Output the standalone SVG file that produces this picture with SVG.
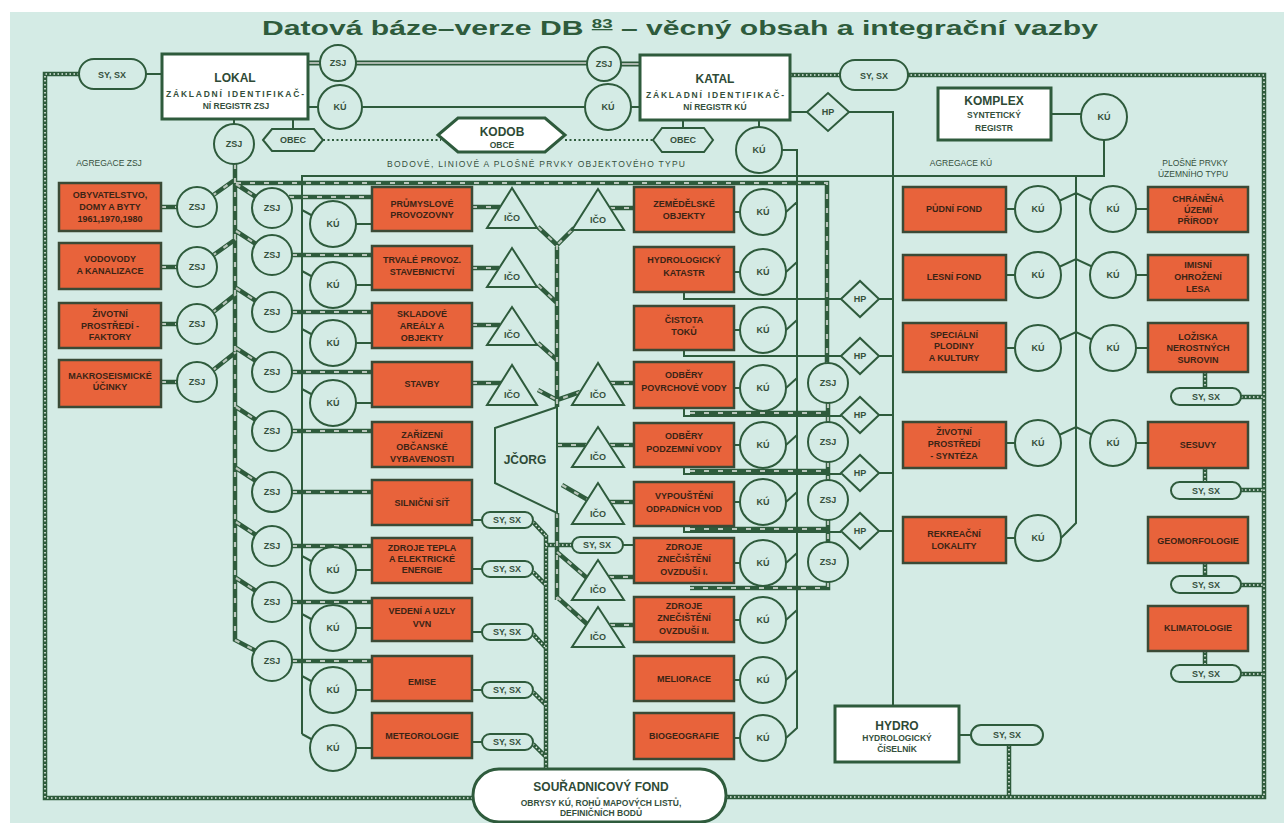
<svg xmlns="http://www.w3.org/2000/svg" width="1284" height="823" viewBox="0 0 1284 823">
<defs>
<style>
.bg{fill:#d4ebe5}
.ln{fill:none;stroke:#2e5b3c;stroke-width:2}
.zb{fill:none;stroke:#2e5b3c;stroke-width:4.5}
.zt{fill:none;stroke:#b9c6bc;stroke-width:2.2;stroke-dasharray:5 9}
.fb{fill:none;stroke:#2e5b3c;stroke-width:4.5}
.ft{fill:none;stroke:#e0ebe3;stroke-width:1.6;stroke-dasharray:1.5 2.5}
.db{fill:none;stroke:#2e5b3c;stroke-width:5}
.dt{fill:none;stroke:#aab6ad;stroke-width:1.8}
.dot{fill:none;stroke:#2e5b3c;stroke-width:2;stroke-dasharray:2 2.5}
.ob{fill:#e8633b;stroke:#3a4a36;stroke-width:2.5}
.wb{fill:#fff;stroke:#2e5b3c;stroke-width:3}
.nd{fill:#d4ebe5;stroke:#2e5b3c;stroke-width:2}
text{font-family:"Liberation Sans",Arial,sans-serif;text-anchor:middle}
.t{font-size:9px;font-weight:bold;fill:#3b2415}
.c{font-size:9px;font-weight:bold;fill:#34503c}
.h{font-size:12px;font-weight:bold;fill:#2e4a36}
.s{font-size:8.5px;font-weight:bold;fill:#34503c}
.lb{font-size:8.5px;fill:#34503c}
.title{font-size:21px;font-weight:bold;fill:#2e5b3c;text-anchor:start}
</style>
<path id="frame" d="M79 74H45V798H473M726 797H1264V75H908M790 75H840M1241 397H1264M1241 490H1264M1241 585H1264M1241 674H1264M1205 372V388M1205 468V482M1205 563V576M1205 651V665M1009 745V797M546 535V769M533 522L546 536M533 572L546 585M533 634L546 648M533 692L546 705M533 744L546 757M546 545H572"/>
<path id="zsj" d="M235 164V640L256 651M212 196L236 179M212 256L236 239M212 313L236 294M212 371L236 352M161 207H177M161 267H177M161 324H177M161 382H177M236 184L256 197M236 231L256 244M236 288L256 301M236 348L256 361M236 407L256 420M236 468L256 481M236 522L256 535M236 578L256 591M289 197H372M292 255H372M292 312H372M292 372H372M292 431H372M292 492H372M292 546H372M292 602H372M292 661H372M236 183H827V363M828 403V422M828 462V480M828 520V542M828 582V588H690M690 413H828M690 471H828M690 529H828M472 207H500M472 268H499M472 325H500M472 383H501M610 208H634M610 383H634M610 445H634M610 502H634M609 577H634M610 625H634M538 227L557 245L574 228M557 245V407M538 285L557 303M538 343L557 360M538 390L557 400L580 392M557 513V600M557 445H586M562 485L588 500M557 552L587 578M557 597L587 624"/>
</defs>
<rect width="1284" height="823" fill="#fff"/>
<rect x="10" y="12" width="1274" height="811" class="bg"/>
<text class="title" x="262" y="35" textLength="836" lengthAdjust="spacingAndGlyphs">Datová báze–verze DB <tspan font-size="13" dy="-7" text-decoration="underline">83</tspan><tspan dy="7"> – věcný obsah a integrační vazby</tspan></text>

<g id="connectors">
<use href="#frame" class="fb"/><use href="#frame" class="ft"/>
<use href="#zsj" class="zb"/><use href="#zsj" class="zt"/>
<path class="db" d="M308 63H321M356 63H587M621 64H640"/>
<path class="dt" d="M308 63H321M356 63H587M621 64H640"/>
<path class="dot" d="M323 140H441M565 140H653"/>
<path class="ln" d="M146 74H162M308 107H318M362 107H585M631 107H640M293 119V129M234 119V124M683 120V128M759 120V127M790 112H807M849 112H893V706M782 150H797V728L786 738M786 212L797 202M786 272L797 262M786 330L797 320M786 388L797 378M786 445L797 435M786 502L797 492M786 563L797 553M786 620L797 610M786 680L797 670M734 212H740M734 272H740M734 330H740M734 388H740M734 445H740M734 502H740M734 563H740M734 620H740M734 680H740M734 738H740M684 292V299H841M684 350V356H841M684 408V416H841M684 467V474H841M684 526V532H841M879 299H893M879 356H893M879 415H893M879 473H893M879 531H893M302 734V176H1104V140M302 210L313 216M302 271L313 277M302 329L313 335M302 389L313 395M302 556L313 562M302 614L313 620M302 676L313 682M302 734L313 740M356 224H372M356 285H372M356 343H372M356 403H372M356 570H372M356 628H372M356 690H372M356 748H372M1076 176V523L1061 538M1059 201L1076 193L1093 201M1059 267L1076 259L1093 267M1059 340L1076 332L1093 340M1059 435L1076 427L1093 435M1006 209H1015M1006 275H1015M1006 348H1015M1006 443H1015M1006 538H1015M1136 209H1148M1136 275H1148M1136 348H1148M1136 443H1148M1051 114H1081M959 735H971M472 520H482M472 569H482M472 632H482M472 690H482M472 742H482M623 545H634"/>
</g>

<g id="labels">
<text class="lb" x="109" y="166">AGREGACE ZSJ</text>
<text class="lb" x="536" y="167" textLength="298">BODOVÉ, LINIOVÉ A PLOŠNÉ PRVKY OBJEKTOVÉHO TYPU</text>
<text class="lb" x="961" y="166">AGREGACE KÚ</text>
<text class="lb" x="1195" y="166">PLOŠNÉ PRVKY</text>
<text class="lb" x="1193" y="177">ÚZEMNÍHO TYPU</text>
</g>

<g id="lokal"><rect class="wb" x="162" y="54" width="146" height="65"/><text class="h" x="235" y="82">LOKAL</text><text class="s" x="235" y="97" textLength="138">ZÁKLADNÍ IDENTIFIKAČ-</text><text class="s" x="236" y="109">NÍ REGISTR ZSJ</text></g>
<g id="katal"><rect class="wb" x="640" y="55" width="150" height="65"/><text class="h" x="715" y="83">KATAL</text><text class="s" x="715" y="98" textLength="138">ZÁKLADNÍ IDENTIFIKAČ-</text><text class="s" x="715" y="110">NÍ REGISTR KÚ</text></g>
<g id="komplex"><rect class="wb" x="938" y="88" width="113" height="52"/><text class="h" x="994" y="105">KOMPLEX</text><text class="s" x="994" y="118">SYNTETICKÝ</text><text class="s" x="994" y="131">REGISTR</text></g>
<g id="hydro"><rect class="wb" x="835" y="706" width="124" height="56"/><text class="h" x="897" y="730">HYDRO</text><text class="s" x="897" y="741">HYDROLOGICKÝ</text><text class="s" x="897" y="752">ČÍSELNÍK</text></g>
<g id="souradnice"><rect class="wb" x="473" y="769" width="253" height="53" rx="26"/><text class="h" x="601" y="791">SOUŘADNICOVÝ FOND</text><text class="s" x="601" y="806">OBRYSY KÚ, ROHŮ MAPOVÝCH LISTŮ,</text><text class="s" x="601" y="816">DEFINIČNÍCH BODŮ</text></g>
<g id="kodob"><polygon class="wb" points="438,135 458,118 545,118 565,135 545,152 458,152"/><text class="h" x="502" y="136">KODOB</text><text class="s" x="502" y="148">OBCE</text></g>
<g id="obec1"><polygon class="nd" points="263,140 272,129 314,129 323,140 314,151 272,151"/><text class="c" x="293" y="143">OBEC</text></g>
<g id="obec2"><polygon class="nd" points="653,140 662,128 704,128 713,140 704,152 662,152"/><text class="c" x="683" y="143">OBEC</text></g>

<g id="pills">
<g id="p-lokal"><rect class="nd" x="79" y="59" width="67" height="30" rx="15"/><text class="c" x="112" y="78">SY, SX</text></g>
<g id="p-katal"><rect class="nd" x="840" y="60" width="68" height="30" rx="15"/><text class="c" x="874" y="79">SY, SX</text></g>
<g id="p-hydro"><rect class="nd" x="971" y="725" width="72" height="20" rx="10"/><text class="c" x="1007" y="738">SY, SX</text></g>
<g id="p-q3"><rect class="nd" x="1171" y="388" width="70" height="17" rx="8.5"/><text class="c" x="1206" y="400">SY, SX</text></g>
<g id="p-q4"><rect class="nd" x="1171" y="482" width="70" height="17" rx="8.5"/><text class="c" x="1206" y="494">SY, SX</text></g>
<g id="p-q5"><rect class="nd" x="1171" y="576" width="70" height="17" rx="8.5"/><text class="c" x="1206" y="588">SY, SX</text></g>
<g id="p-q6"><rect class="nd" x="1171" y="665" width="70" height="17" rx="8.5"/><text class="c" x="1206" y="677">SY, SX</text></g>
<g id="p-m6"><rect class="nd" x="482" y="512" width="51" height="16" rx="8"/><text class="c" x="507" y="523">SY, SX</text></g>
<g id="p-m7"><rect class="nd" x="482" y="561" width="51" height="16" rx="8"/><text class="c" x="507" y="572">SY, SX</text></g>
<g id="p-m8"><rect class="nd" x="482" y="624" width="51" height="16" rx="8"/><text class="c" x="507" y="635">SY, SX</text></g>
<g id="p-m9"><rect class="nd" x="482" y="682" width="51" height="16" rx="8"/><text class="c" x="507" y="693">SY, SX</text></g>
<g id="p-m10"><rect class="nd" x="482" y="734" width="51" height="16" rx="8"/><text class="c" x="507" y="745">SY, SX</text></g>
<g id="p-r7"><rect class="nd" x="572" y="537" width="51" height="16" rx="8"/><text class="c" x="597" y="548">SY, SX</text></g>
</g>

<g id="hp">
<g id="hp0"><polygon class="nd" points="807,112 828,93 849,112 828,131"/><text class="c" x="828" y="115">HP</text></g>
<g id="hp1"><polygon class="nd" points="841,299 860,281 879,299 860,317"/><text class="c" x="860" y="302">HP</text></g>
<g id="hp2"><polygon class="nd" points="841,356 860,338 879,356 860,374"/><text class="c" x="860" y="359">HP</text></g>
<g id="hp3"><polygon class="nd" points="841,415 860,397 879,415 860,433"/><text class="c" x="860" y="418">HP</text></g>
<g id="hp4"><polygon class="nd" points="841,473 860,455 879,473 860,491"/><text class="c" x="860" y="476">HP</text></g>
<g id="hp5"><polygon class="nd" points="841,531 860,513 879,531 860,549"/><text class="c" x="860" y="534">HP</text></g>
</g>

<g id="ico">
<g id="ico-a1"><polygon class="nd" points="512,188 487,228 537,228"/><text class="c" x="512" y="221">IČO</text></g>
<g id="ico-a2"><polygon class="nd" points="512,248 487,287 537,287"/><text class="c" x="512" y="280">IČO</text></g>
<g id="ico-a3"><polygon class="nd" points="512,307 487,345 537,345"/><text class="c" x="512" y="338">IČO</text></g>
<g id="ico-a4"><polygon class="nd" points="512,365 487,405 537,405"/><text class="c" x="512" y="398">IČO</text></g>
<g id="ico-b1"><polygon class="nd" points="598,189 572,230 624,230"/><text class="c" x="598" y="223">IČO</text></g>
<g id="ico-b2"><polygon class="nd" points="598,363 572,405 624,405"/><text class="c" x="598" y="398">IČO</text></g>
<g id="ico-b3"><polygon class="nd" points="598,427 572,467 624,467"/><text class="c" x="598" y="460">IČO</text></g>
<g id="ico-b4"><polygon class="nd" points="598,483 572,524 624,524"/><text class="c" x="598" y="517">IČO</text></g>
<g id="ico-b5"><polygon class="nd" points="598,560 572,600 624,600"/><text class="c" x="598" y="593">IČO</text></g>
<g id="ico-b6"><polygon class="nd" points="598,607 572,647 624,647"/><text class="c" x="598" y="640">IČO</text></g>
</g>
<g id="jcorg"><polygon class="nd" points="557,407 495,428 495,483 557,513"/><text class="h" x="525" y="464">JČORG</text></g>

<g id="circles">
<g id="c-lokal-zsj"><circle class="nd" cx="338" cy="63" r="18"/><text class="c" x="338" y="66">ZSJ</text></g>
<g id="c-lokal-ku"><circle class="nd" cx="340" cy="107" r="22"/><text class="c" x="340" y="110">KÚ</text></g>
<g id="c-katal-zsj"><circle class="nd" cx="604" cy="64" r="17"/><text class="c" x="604" y="67">ZSJ</text></g>
<g id="c-katal-ku"><circle class="nd" cx="608" cy="107" r="23"/><text class="c" x="608" y="110">KÚ</text></g>
<g id="c-katal-ku2"><circle class="nd" cx="759" cy="150" r="23"/><text class="c" x="759" y="153">KÚ</text></g>
<g id="c-lokal-zsj2"><circle class="nd" cx="234" cy="144" r="20"/><text class="c" x="234" y="147">ZSJ</text></g>
<g id="c-komplex-ku"><circle class="nd" cx="1104" cy="117" r="23"/><text class="c" x="1104" y="120">KÚ</text></g>
<g id="c-l1"><circle class="nd" cx="197" cy="207" r="20"/><text class="c" x="197" y="210">ZSJ</text></g>
<g id="c-l2"><circle class="nd" cx="197" cy="267" r="20"/><text class="c" x="197" y="270">ZSJ</text></g>
<g id="c-l3"><circle class="nd" cx="197" cy="324" r="20"/><text class="c" x="197" y="327">ZSJ</text></g>
<g id="c-l4"><circle class="nd" cx="197" cy="382" r="20"/><text class="c" x="197" y="385">ZSJ</text></g>
<g id="c-z1"><circle class="nd" cx="272" cy="208" r="20"/><text class="c" x="272" y="211">ZSJ</text></g>
<g id="c-z2"><circle class="nd" cx="272" cy="255" r="20"/><text class="c" x="272" y="258">ZSJ</text></g>
<g id="c-z3"><circle class="nd" cx="272" cy="312" r="20"/><text class="c" x="272" y="315">ZSJ</text></g>
<g id="c-z4"><circle class="nd" cx="272" cy="372" r="20"/><text class="c" x="272" y="375">ZSJ</text></g>
<g id="c-z5"><circle class="nd" cx="272" cy="431" r="20"/><text class="c" x="272" y="434">ZSJ</text></g>
<g id="c-z6"><circle class="nd" cx="272" cy="492" r="20"/><text class="c" x="272" y="495">ZSJ</text></g>
<g id="c-z7"><circle class="nd" cx="272" cy="546" r="20"/><text class="c" x="272" y="549">ZSJ</text></g>
<g id="c-z8"><circle class="nd" cx="272" cy="602" r="20"/><text class="c" x="272" y="605">ZSJ</text></g>
<g id="c-z9"><circle class="nd" cx="272" cy="661" r="20"/><text class="c" x="272" y="664">ZSJ</text></g>
<g id="c-k1"><circle class="nd" cx="333" cy="224" r="23"/><text class="c" x="333" y="227">KÚ</text></g>
<g id="c-k2"><circle class="nd" cx="333" cy="285" r="23"/><text class="c" x="333" y="288">KÚ</text></g>
<g id="c-k3"><circle class="nd" cx="333" cy="343" r="23"/><text class="c" x="333" y="346">KÚ</text></g>
<g id="c-k4"><circle class="nd" cx="333" cy="403" r="23"/><text class="c" x="333" y="406">KÚ</text></g>
<g id="c-k7"><circle class="nd" cx="333" cy="570" r="23"/><text class="c" x="333" y="573">KÚ</text></g>
<g id="c-k8"><circle class="nd" cx="333" cy="628" r="23"/><text class="c" x="333" y="631">KÚ</text></g>
<g id="c-k9"><circle class="nd" cx="333" cy="690" r="23"/><text class="c" x="333" y="693">KÚ</text></g>
<g id="c-k10"><circle class="nd" cx="333" cy="748" r="23"/><text class="c" x="333" y="751">KÚ</text></g>
<g id="c-rk1"><circle class="nd" cx="763" cy="212" r="23"/><text class="c" x="763" y="215">KÚ</text></g>
<g id="c-rk2"><circle class="nd" cx="763" cy="272" r="23"/><text class="c" x="763" y="275">KÚ</text></g>
<g id="c-rk3"><circle class="nd" cx="763" cy="330" r="23"/><text class="c" x="763" y="333">KÚ</text></g>
<g id="c-rk4"><circle class="nd" cx="763" cy="388" r="23"/><text class="c" x="763" y="391">KÚ</text></g>
<g id="c-rk5"><circle class="nd" cx="763" cy="445" r="23"/><text class="c" x="763" y="448">KÚ</text></g>
<g id="c-rk6"><circle class="nd" cx="763" cy="502" r="23"/><text class="c" x="763" y="505">KÚ</text></g>
<g id="c-rk7"><circle class="nd" cx="763" cy="563" r="23"/><text class="c" x="763" y="566">KÚ</text></g>
<g id="c-rk8"><circle class="nd" cx="763" cy="620" r="23"/><text class="c" x="763" y="623">KÚ</text></g>
<g id="c-rk9"><circle class="nd" cx="763" cy="680" r="23"/><text class="c" x="763" y="683">KÚ</text></g>
<g id="c-rk10"><circle class="nd" cx="763" cy="738" r="23"/><text class="c" x="763" y="741">KÚ</text></g>
<g id="c-rz1"><circle class="nd" cx="828" cy="383" r="20"/><text class="c" x="828" y="386">ZSJ</text></g>
<g id="c-rz2"><circle class="nd" cx="828" cy="442" r="20"/><text class="c" x="828" y="445">ZSJ</text></g>
<g id="c-rz3"><circle class="nd" cx="828" cy="500" r="20"/><text class="c" x="828" y="503">ZSJ</text></g>
<g id="c-rz4"><circle class="nd" cx="828" cy="562" r="20"/><text class="c" x="828" y="565">ZSJ</text></g>
<g id="c-pk1"><circle class="nd" cx="1038" cy="209" r="23"/><text class="c" x="1038" y="212">KÚ</text></g>
<g id="c-pk2"><circle class="nd" cx="1038" cy="275" r="23"/><text class="c" x="1038" y="278">KÚ</text></g>
<g id="c-pk3"><circle class="nd" cx="1038" cy="348" r="23"/><text class="c" x="1038" y="351">KÚ</text></g>
<g id="c-pk4"><circle class="nd" cx="1038" cy="443" r="23"/><text class="c" x="1038" y="446">KÚ</text></g>
<g id="c-pk5"><circle class="nd" cx="1038" cy="538" r="23"/><text class="c" x="1038" y="541">KÚ</text></g>
<g id="c-qk1"><circle class="nd" cx="1113" cy="209" r="23"/><text class="c" x="1113" y="212">KÚ</text></g>
<g id="c-qk2"><circle class="nd" cx="1113" cy="275" r="23"/><text class="c" x="1113" y="278">KÚ</text></g>
<g id="c-qk3"><circle class="nd" cx="1113" cy="348" r="23"/><text class="c" x="1113" y="351">KÚ</text></g>
<g id="c-qk4"><circle class="nd" cx="1113" cy="443" r="23"/><text class="c" x="1113" y="446">KÚ</text></g>
</g>

<g id="boxes">
<g id="b-l1"><rect class="ob" x="59" y="183" width="102" height="48"/><text class="t" x="110" y="198">OBYVATELSTVO,</text><text class="t" x="110" y="210">DOMY A BYTY</text><text class="t" x="110" y="222">1961,1970,1980</text></g>
<g id="b-l2"><rect class="ob" x="59" y="243" width="102" height="46"/><text class="t" x="110" y="262">VODOVODY</text><text class="t" x="110" y="274">A KANALIZACE</text></g>
<g id="b-l3"><rect class="ob" x="59" y="303" width="102" height="45"/><text class="t" x="110" y="317">ŽIVOTNÍ</text><text class="t" x="110" y="329">PROSTŘEDÍ -</text><text class="t" x="110" y="340">FAKTORY</text></g>
<g id="b-l4"><rect class="ob" x="59" y="360" width="102" height="47"/><text class="t" x="110" y="379">MAKROSEISMICKÉ</text><text class="t" x="110" y="390">ÚČINKY</text></g>

<g id="b-m1"><rect class="ob" x="372" y="187" width="100" height="44"/><text class="t" x="422" y="207">PRŮMYSLOVÉ</text><text class="t" x="422" y="218">PROVOZOVNY</text></g>
<g id="b-m2"><rect class="ob" x="372" y="246" width="100" height="44"/><text class="t" x="422" y="263">TRVALÉ PROVOZ.</text><text class="t" x="422" y="275">STAVEBNICTVÍ</text></g>
<g id="b-m3"><rect class="ob" x="372" y="303" width="100" height="45"/><text class="t" x="422" y="317">SKLADOVÉ</text><text class="t" x="422" y="329">AREÁLY A</text><text class="t" x="422" y="341">OBJEKTY</text></g>
<g id="b-m4"><rect class="ob" x="372" y="362" width="100" height="45"/><text class="t" x="422" y="387">STAVBY</text></g>
<g id="b-m5"><rect class="ob" x="372" y="422" width="100" height="45"/><text class="t" x="422" y="438">ZAŘÍZENÍ</text><text class="t" x="422" y="450">OBČANSKÉ</text><text class="t" x="422" y="462">VYBAVENOSTI</text></g>
<g id="b-m6"><rect class="ob" x="372" y="480" width="100" height="45"/><text class="t" x="422" y="506">SILNIČNÍ SÍŤ</text></g>
<g id="b-m7"><rect class="ob" x="372" y="538" width="100" height="45"/><text class="t" x="422" y="551">ZDROJE TEPLA</text><text class="t" x="422" y="562">A ELEKTRICKÉ</text><text class="t" x="422" y="573">ENERGIE</text></g>
<g id="b-m8"><rect class="ob" x="372" y="598" width="100" height="43"/><text class="t" x="422" y="614">VEDENÍ A UZLY</text><text class="t" x="422" y="627">VVN</text></g>
<g id="b-m9"><rect class="ob" x="372" y="656" width="100" height="45"/><text class="t" x="422" y="685">EMISE</text></g>
<g id="b-m10"><rect class="ob" x="372" y="713" width="100" height="45"/><text class="t" x="422" y="739">METEOROLOGIE</text></g>

<g id="b-r1"><rect class="ob" x="634" y="187" width="100" height="45"/><text class="t" x="684" y="207">ZEMĚDĚLSKÉ</text><text class="t" x="684" y="219">OBJEKTY</text></g>
<g id="b-r2"><rect class="ob" x="634" y="247" width="100" height="45"/><text class="t" x="684" y="263">HYDROLOGICKÝ</text><text class="t" x="684" y="276">KATASTR</text></g>
<g id="b-r3"><rect class="ob" x="634" y="306" width="100" height="44"/><text class="t" x="684" y="323">ČISTOTA</text><text class="t" x="684" y="335">TOKŮ</text></g>
<g id="b-r4"><rect class="ob" x="634" y="362" width="100" height="46"/><text class="t" x="684" y="378">ODBĚRY</text><text class="t" x="684" y="391">POVRCHOVÉ VODY</text></g>
<g id="b-r5"><rect class="ob" x="634" y="423" width="100" height="44"/><text class="t" x="684" y="439">ODBĚRY</text><text class="t" x="684" y="452">PODZEMNÍ VODY</text></g>
<g id="b-r6"><rect class="ob" x="634" y="482" width="100" height="44"/><text class="t" x="684" y="499">VYPOUŠTĚNÍ</text><text class="t" x="684" y="512">ODPADNÍCH VOD</text></g>
<g id="b-r7"><rect class="ob" x="634" y="538" width="100" height="45"/><text class="t" x="684" y="550">ZDROJE</text><text class="t" x="684" y="562">ZNEČIŠTĚNÍ</text><text class="t" x="684" y="575">OVZDUŠÍ I.</text></g>
<g id="b-r8"><rect class="ob" x="634" y="597" width="100" height="45"/><text class="t" x="684" y="609">ZDROJE</text><text class="t" x="684" y="621">ZNEČIŠTĚNÍ</text><text class="t" x="684" y="634">OVZDUŠÍ II.</text></g>
<g id="b-r9"><rect class="ob" x="634" y="656" width="100" height="45"/><text class="t" x="684" y="682">MELIORACE</text></g>
<g id="b-r10"><rect class="ob" x="634" y="713" width="100" height="46"/><text class="t" x="684" y="739">BIOGEOGRAFIE</text></g>

<g id="b-p1"><rect class="ob" x="903" y="187" width="103" height="45"/><text class="t" x="954" y="212">PŮDNÍ FOND</text></g>
<g id="b-p2"><rect class="ob" x="903" y="255" width="103" height="45"/><text class="t" x="954" y="280">LESNÍ FOND</text></g>
<g id="b-p3"><rect class="ob" x="903" y="323" width="103" height="49"/><text class="t" x="954" y="338">SPECIÁLNÍ</text><text class="t" x="954" y="349">PLODINY</text><text class="t" x="954" y="361">A KULTURY</text></g>
<g id="b-p4"><rect class="ob" x="903" y="422" width="103" height="46"/><text class="t" x="954" y="435">ŽIVOTNÍ</text><text class="t" x="954" y="447">PROSTŘEDÍ</text><text class="t" x="954" y="459">- SYNTÉZA</text></g>
<g id="b-p5"><rect class="ob" x="903" y="517" width="103" height="46"/><text class="t" x="954" y="537">REKREAČNÍ</text><text class="t" x="954" y="549">LOKALITY</text></g>

<g id="b-q1"><rect class="ob" x="1148" y="187" width="100" height="45"/><text class="t" x="1198" y="202">CHRÁNĚNÁ</text><text class="t" x="1198" y="213">ÚZEMÍ</text><text class="t" x="1198" y="224">PŘÍRODY</text></g>
<g id="b-q2"><rect class="ob" x="1148" y="255" width="100" height="45"/><text class="t" x="1198" y="268">IMISNÍ</text><text class="t" x="1198" y="280">OHROŽENÍ</text><text class="t" x="1198" y="292">LESA</text></g>
<g id="b-q3"><rect class="ob" x="1148" y="323" width="100" height="49"/><text class="t" x="1198" y="340">LOŽISKA</text><text class="t" x="1198" y="351">NEROSTNÝCH</text><text class="t" x="1198" y="363">SUROVIN</text></g>
<g id="b-q4"><rect class="ob" x="1148" y="422" width="100" height="46"/><text class="t" x="1198" y="448">SESUVY</text></g>
<g id="b-q5"><rect class="ob" x="1148" y="517" width="100" height="46"/><text class="t" x="1198" y="544">GEOMORFOLOGIE</text></g>
<g id="b-q6"><rect class="ob" x="1148" y="606" width="100" height="45"/><text class="t" x="1198" y="631">KLIMATOLOGIE</text></g>
</g>
</svg>
